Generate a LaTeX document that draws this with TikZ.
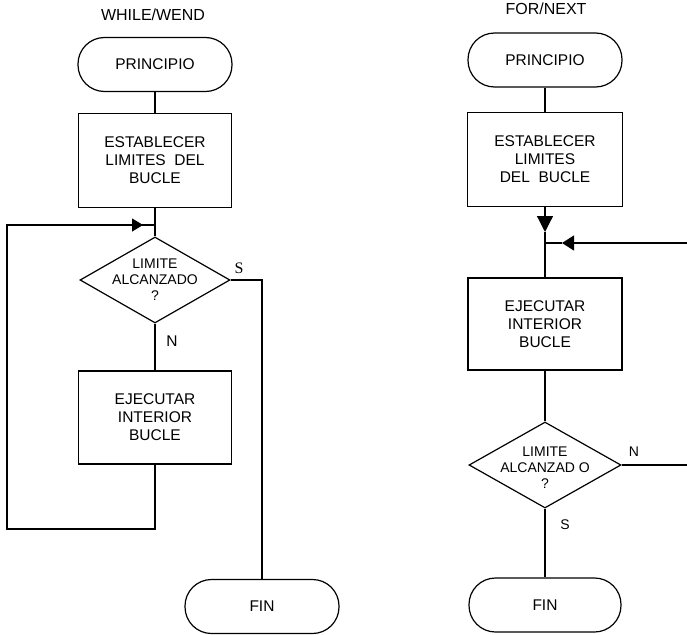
\documentclass[tikz,border=0pt]{standalone}
\usepackage{fontspec}
\setmainfont{Liberation Sans}
\newfontfamily\serifS{Liberation Serif}
\usetikzlibrary{shapes.geometric,arrows.meta}
\begin{document}
\begin{tikzpicture}[x=1pt,y=-1pt,line width=1.2pt,
  term/.style={draw, rounded corners=26.5pt, minimum width=154pt, minimum height=54pt, inner sep=0pt, font=\fontsize{15.5}{18}\selectfont},
  proc/.style={draw, minimum width=153pt, minimum height=94pt, inner sep=0pt, align=center, font=\fontsize{15.5}{18}\selectfont},
  dec/.style={draw, diamond, aspect=1.74, minimum width=150pt, minimum height=86pt, inner sep=0pt},
  dectext/.style={align=center, font=\fontsize{14}{16}\selectfont},
  arr/.style={-{Triangle[length=11pt,width=13pt]}},
  bigarr/.style={-{Triangle[length=16pt,width=16pt]}},
  lbl/.style={font=\fontsize{15.5}{16}\selectfont, inner sep=0pt},
  rlbl/.style={font=\fontsize{14}{15}\selectfont, inner sep=0pt},
  ttl/.style={font=\fontsize{16}{17}\selectfont, inner sep=0pt}]
\useasboundingbox (0,0) rectangle (687,634);
\clip (0,0) rectangle (687,634);

% ---------- WHILE/WEND ----------
\node[ttl] (t1) at (153,15) {WHILE/WEND};
\node[term] (p1) at (155,64.5) {PRINCIPIO};
\node[proc] (e1) at (155,160.5) {ESTABLECER\\LIMITES\ \ DEL\\BUCLE};
\node[dec,label={[dectext]center:LIMITE\\ALCANZADO\\?}] (d1) at (155,280) {};
\node[proc, minimum height=93pt] (x1) at (155,417.5) {EJECUTAR\\INTERIOR\\BUCLE};
\node[term] (f1) at (262,606.5) {FIN};
\node[lbl, font=\serifS\fontsize{16}{16}\selectfont] (s1) at (239,268) {S};
\node[lbl] (n1) at (172,341) {N};

\coordinate (j1) at (155,225);
\coordinate (a1) at (143,225);
\coordinate (c1) at (155,529);
\coordinate (c2) at (7,529);
\coordinate (c3) at (7,225);

\draw (p1.south) -- (e1.north);
\draw (e1.south) -- (d1.north);
\draw (d1.south) -- (x1.north);
\draw (d1.east) -| (f1.north);
\draw (x1.south) -- (c1) -- (c2) -- (c3) -- (a1);
\draw[arr] (c3) -- (a1);
\draw (a1) -- (j1);

% ---------- FOR/NEXT ----------
\node[ttl] (t2) at (546,8.5) {FOR/NEXT};
\node[term] (p2) at (545,60) {PRINCIPIO};
\node[proc, minimum width=155pt] (e2) at (545,159.5) {ESTABLECER\\LIMITES\\DEL\ \ BUCLE};
\node[proc, minimum width=154pt, minimum height=92pt] (x2) at (545,324) {EJECUTAR\\INTERIOR\\BUCLE};
\node[dec, minimum width=152pt] (d2) at (545,465) {};
\node[dectext] (dt2) at (545,468) {LIMITE\\ALCANZAD O\\?};
\node[term, minimum width=152pt] (f2) at (545,605) {FIN};
\node[rlbl] (n2) at (634,452) {N};
\node[rlbl] (s2) at (565,525) {S};

\coordinate (a2) at (545,232);
\coordinate (j2) at (545,243);
\coordinate (a3) at (562,243);
\coordinate (r1) at (692,465);
\coordinate (r2) at (692,243);

\draw (p2.south) -- (e2.north);
\draw[bigarr] (e2.south) -- (a2);
\draw (a2) -- (x2.north);
\draw (x2.south) -- (d2.north);
\draw (d2.south) -- (f2.north);
\draw (d2.east) -- (r1) -- (r2);
\draw[-{Triangle[length=12pt,width=15pt]}] (r2) -- (a3);
\draw (a3) -- (j2);
\end{tikzpicture}
\end{document}
